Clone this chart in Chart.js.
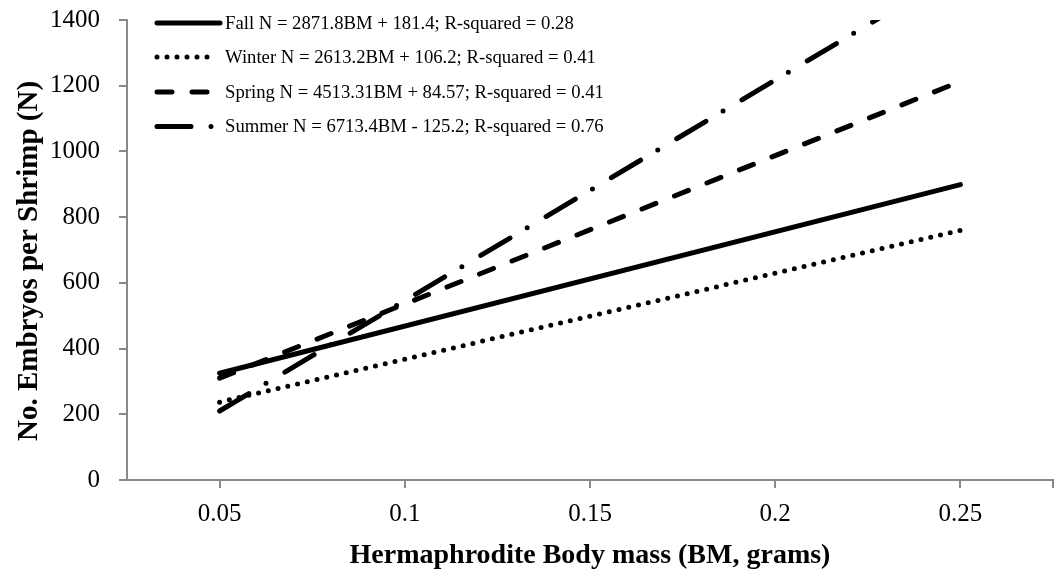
<!DOCTYPE html>
<html>
<head>
<meta charset="utf-8">
<script src="https://cdn.jsdelivr.net/npm/chart.js@4/dist/chart.umd.min.js"></script>
<style>
html,body{margin:0;padding:0;background:#fff;}
#wrap{width:1058px;height:571px;position:relative;}
</style>
</head>
<body>
<div id="wrap"><canvas id="c"></canvas></div>
<script>
// ---- data ----
const bodyMass = [0.05, 0.25];
const fallN = [325, 899];
const winterN = [237, 760];
const springN = [310, 1213];
const summerN = [210, 1553];
const seriesLabels = [
  'Fall N = 2871.8BM + 181.4; R-squared = 0.28',
  'Winter N = 2613.2BM + 106.2; R-squared = 0.41',
  'Spring N = 4513.31BM + 84.57; R-squared = 0.41',
  'Summer N = 6713.4BM - 125.2; R-squared = 0.76'
];
const xTickValues = [0.05, 0.1, 0.15, 0.2, 0.25, 0.275];
const xTickLabels = ['0.05', '0.1', '0.15', '0.2', '0.25', ''];
const yTickValues = [0, 200, 400, 600, 800, 1000, 1200, 1400];
const xTitle = 'Hermaphrodite Body mass (BM, grams)';
const yTitle = 'No. Embryos per Shrimp (N)';

// ---- styles ----
const dashes = [[], [0, 10], [15, 20], [34, 20, 0, 22]];
const allSeries = [fallN, winterN, springN, summerN];
const axisGray = '#898989';
const serif = "'Liberation Serif', 'Times New Roman', serif";

const datasets = allSeries.map((vals, i) => ({
  label: seriesLabels[i],
  data: bodyMass.map((x, j) => ({x: x, y: vals[j]})),
  borderColor: '#000',
  backgroundColor: '#000',
  borderWidth: 5,
  borderCapStyle: 'round',
  borderDash: dashes[i],
  pointRadius: 0,
  pointHoverRadius: 0,
  fill: false,
  tension: 0,
  clip: 0
}));

const overlay = {
  id: 'overlay',
  afterDraw(chart) {
    const ctx = chart.ctx;
    ctx.save();
    // legend
    const rowY = [23, 57, 92, 126.5];
    const lineEnd = [220, 215, 215, 215];
    chart.data.datasets.forEach((ds, i) => {
      ctx.beginPath();
      ctx.strokeStyle = ds.borderColor;
      ctx.lineWidth = ds.borderWidth;
      ctx.lineCap = 'round';
      ctx.setLineDash(ds.borderDash);
      ctx.moveTo(157, rowY[i]);
      ctx.lineTo(lineEnd[i], rowY[i]);
      ctx.stroke();
      ctx.setLineDash([]);
      ctx.fillStyle = '#000';
      ctx.font = '18.7px ' + serif;
      ctx.textAlign = 'left';
      ctx.textBaseline = 'middle';
      ctx.fillText(ds.label, 225, rowY[i] + 1);
    });
    // axis titles
    ctx.fillStyle = '#000';
    ctx.textAlign = 'center';
    ctx.textBaseline = 'alphabetic';
    ctx.font = 'bold 28px ' + serif;
    ctx.fillText(xTitle, 590, 563);
    ctx.font = 'bold 29px ' + serif;
    ctx.translate(37, 261);
    ctx.rotate(-Math.PI / 2);
    ctx.fillText(yTitle, 0, 0);
    ctx.restore();
  }
};

function noPad(s) { s.paddingTop = 0; s.paddingBottom = 0; s.paddingLeft = 0; s.paddingRight = 0; }

new Chart(document.getElementById('c'), {
  type: 'line',
  data: {datasets: datasets},
  options: {
    responsive: true,
    maintainAspectRatio: false,
    animation: false,
    events: [],
    layout: {padding: {top: 20, right: 5, left: 0, bottom: 0}},
    plugins: {legend: {display: false}, tooltip: {enabled: false}, title: {display: false}},
    scales: {
      x: {
        type: 'linear',
        min: 0.025,
        max: 0.275,
        afterBuildTicks: s => { s.ticks = xTickValues.map(v => ({value: v})); },
        afterFit: s => { s.height = 91; noPad(s); },
        ticks: {
          autoSkip: false, maxRotation: 0, minRotation: 0,
          color: '#000', padding: 11,
          font: {family: serif, size: 25},
          callback: (v, i) => xTickLabels[i]
        },
        grid: {drawOnChartArea: false, drawTicks: true, tickLength: 8, color: axisGray, lineWidth: 2},
        border: {display: true, color: axisGray, width: 2}
      },
      y: {
        type: 'linear',
        min: 0,
        max: 1400,
        afterBuildTicks: s => { s.ticks = yTickValues.map(v => ({value: v})); },
        afterFit: s => { s.width = 127; noPad(s); },
        ticks: {
          color: '#000', padding: 19,
          font: {family: serif, size: 25},
          callback: v => String(v)
        },
        grid: {drawOnChartArea: false, drawTicks: true, tickLength: 8, color: axisGray, lineWidth: 2},
        border: {display: true, color: axisGray, width: 2}
      }
    }
  },
  plugins: [overlay]
});
</script>
</body>
</html>
